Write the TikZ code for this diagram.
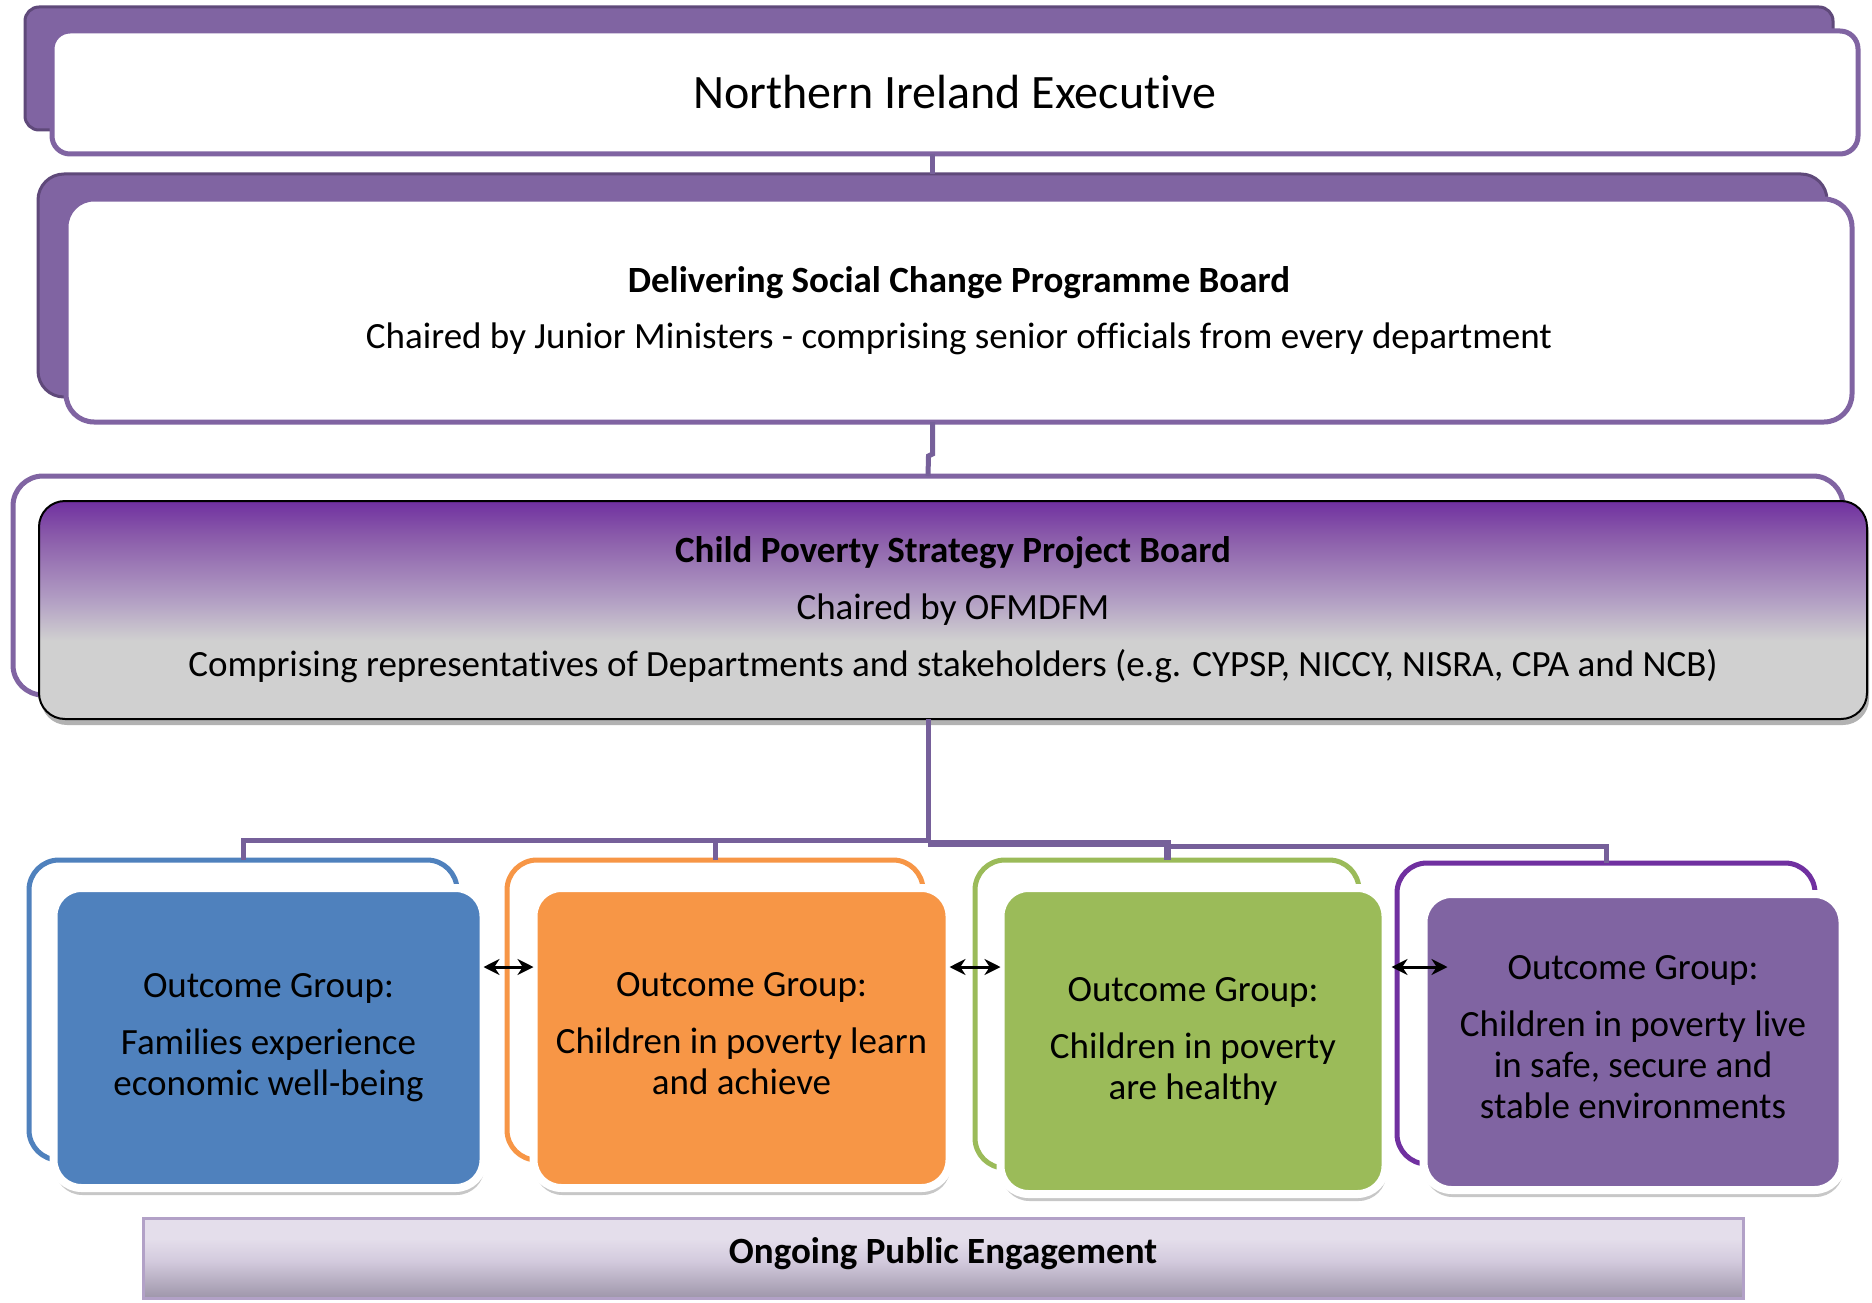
\documentclass[tikz,border=0pt]{standalone}
\usepackage{fontspec}
\setmainfont{Carlito}[Ligatures={NoCommon,NoRequired,NoContextual,NoRare},RawFeature={-liga;-clig;-ccmp}]
\usetikzlibrary{shadows,arrows.meta,calc}
\definecolor{pfill}{HTML}{8064A2}
\definecolor{pdark}{HTML}{5F497A}
\definecolor{connc}{HTML}{76609A}
\definecolor{oblue}{HTML}{4F81BD}
\definecolor{oorange}{HTML}{F79646}
\definecolor{ogreen}{HTML}{9BBB59}
\definecolor{opurple}{HTML}{7030A0}
\definecolor{cptop}{HTML}{7030A0}
\definecolor{cpmidB}{HTML}{8A5BAA}
\definecolor{cpmidA}{HTML}{B3A0C4}
\definecolor{cpgray}{HTML}{D0D0D0}
\definecolor{bartop}{HTML}{E4DEEB}
\definecolor{barmid}{HTML}{D3CADD}
\definecolor{barbot}{HTML}{9E96AA}
\definecolor{barline}{HTML}{B2A1C7}
\pgfdeclareverticalshading{cpshade}{100bp}{color(0bp)=(cpgray); color(25bp)=(cpgray); color(43bp)=(cpgray); color(52bp)=(cpmidA); color(67bp)=(cpmidB); color(75bp)=(cptop); color(100bp)=(cptop)}
\pgfdeclareverticalshading{barshade}{100bp}{color(0bp)=(barbot); color(25bp)=(barbot); color(48bp)=(barmid); color(62bp)=(bartop); color(75bp)=(bartop); color(100bp)=(bartop)}
\newcommand{\liftup}[2]{\raisebox{#1}[\height][\depth]{#2}}
\begin{document}
\begin{tikzpicture}[x=1pt,y=-1pt,
  font=\fontsize{37}{41}\selectfont,
  boxback/.style={draw=pdark, fill=pfill, line width=3pt, rounded corners=14pt, inner sep=0pt, outer sep=0pt},
  boxfront/.style={draw=pfill, fill=white, line width=5pt, rounded corners=18pt, inner sep=0pt, outer sep=0pt, align=center},
  cpouter/.style={draw=pfill, fill=white, line width=5pt, rounded corners=30pt, inner sep=0pt, outer sep=0pt},
  cpfront/.style={draw=black, line width=2pt, shading=cpshade, rounded corners=26pt, inner sep=0pt, outer sep=0pt, align=center,
    drop shadow={shadow xshift=2pt, shadow yshift=-6pt, opacity=0.3, fill=black}},
  ogouter/.style={draw=#1, fill=white, line width=5pt, rounded corners=30pt, inner sep=0pt, outer sep=0pt},
  ogfront/.style={draw=white, fill=#1, line width=8pt, rounded corners=28pt, inner sep=0pt, outer sep=0pt, align=center,
    drop shadow={shadow xshift=1pt, shadow yshift=-7pt, opacity=0.22, fill=black}},
  barbox/.style={draw=barline, line width=3pt, shading=barshade, inner sep=0pt, outer sep=0pt, align=center},
  connline/.style={draw=connc, line width=5pt},
  dblarrow/.style={{Stealth[length=16pt,width=16pt]}-{Stealth[length=16pt,width=16pt]}, line width=3pt, black}
]
\useasboundingbox[fill=white] (0,0) rectangle (1872,1303);

% Northern Ireland Executive
\node[boxback, minimum width=1808pt, minimum height=123pt] (b1) at (929,68.5) {};
\node[boxfront, minimum width=1806pt, minimum height=123pt, font=\fontsize{48}{54}\selectfont] (f1) at (955,92.5) {Northern Ireland Executive};

% Delivering Social Change
\node[boxback, rounded corners=26pt, minimum width=1789pt, minimum height=223pt] (b2) at (932.5,285.5) {};
\node[boxfront, rounded corners=28pt, minimum width=1786pt, minimum height=223pt] (f2) at (959,310.5)
  {\textbf{Delivering Social Change Programme Board}\\[15pt]
   Chaired by Junior Ministers - comprising senior officials from every department};

% connectors top
\draw[connline] (b2.north |- f1.south) -- (b2.north);

% Child Poverty Strategy Project Board
\node[cpouter, minimum width=1830pt, minimum height=219pt] (cpO) at (928,585.5) {};
\draw[connline] (b2.north |- f2.south) -- ++(0,32) -- ++(-4,2) -- (cpO.north);
\node[cpfront, minimum width=1828pt, minimum height=218pt] (cpF) at (953,610)
  {\textbf{Child Poverty Strategy Project Board}\\[16pt]
   Chaired by OFMDFM\\[16pt]
   Comprising representatives of Departments and stakeholders (e.g. CYPSP, NICCY, NISRA, CPA and NCB)};

% tree connectors
\coordinate (j0) at (928,840);
\coordinate (jg) at (928,843);
\coordinate (jp) at (1167,846);

% outcome groups outer
\node[ogouter=oblue,   minimum width=428pt, minimum height=300pt] (oO1) at (243,1010) {};
\node[ogouter=oorange, minimum width=416pt, minimum height=300pt] (oO2) at (715,1010) {};
\node[ogouter=ogreen,  minimum width=384pt, minimum height=308pt] (oO3) at (1167,1014) {};
\node[ogouter=opurple, minimum width=418pt, minimum height=301pt] (oO4) at (1606,1013.5) {};

\draw[connline] (cpO.south |- cpF.south) -- (j0);
\draw[connline] (oO1.north) |- (j0);
\draw[connline] (oO2.north) |- (j0);
\draw[connline, line width=7pt] (oO3.north) |- (jg);
\draw[connline] (oO4.north) |- (jp);

% outcome groups front
\node[ogfront=oblue,   minimum width=430pt, minimum height=300pt] (oF1) at (268.5,1038)
  {Outcome Group:\\[16pt]Families experience\\economic well-being};
\node[ogfront=oorange, minimum width=416pt, minimum height=300pt] (oF2) at (741.5,1038)
  {\liftup{4pt}{\parbox{400pt}{\centering Outcome Group:\\[16pt]Children in poverty learn\\and achieve}}};
\node[ogfront=ogreen,  minimum width=385pt, minimum height=306pt] (oF3) at (1193,1041)
  {Outcome Group:\\[16pt]Children in poverty\\are healthy};
\node[ogfront=pfill,   minimum width=419pt, minimum height=296pt] (oF4) at (1633,1042)
  {\liftup{5pt}{\parbox{400pt}{\centering Outcome Group:\\[16pt]Children in poverty live\\in safe, secure and\\stable environments}}};

% double arrows
\coordinate (ay) at (0,967);
\draw[dblarrow] (oF1.east |- ay) -- (oF2.west |- ay);
\draw[dblarrow] (oF2.east |- ay) -- (oF3.west |- ay);
\draw[dblarrow] ($(oF3.east |- ay)+(6,0)$) -- ($(oF4.west |- ay)+(24,0)$);

% bottom bar
\node[barbox, minimum width=1600pt, minimum height=80pt] (bar) at (943,1258) {\liftup{4pt}{\textbf{Ongoing Public Engagement}}};
\end{tikzpicture}
\end{document}
